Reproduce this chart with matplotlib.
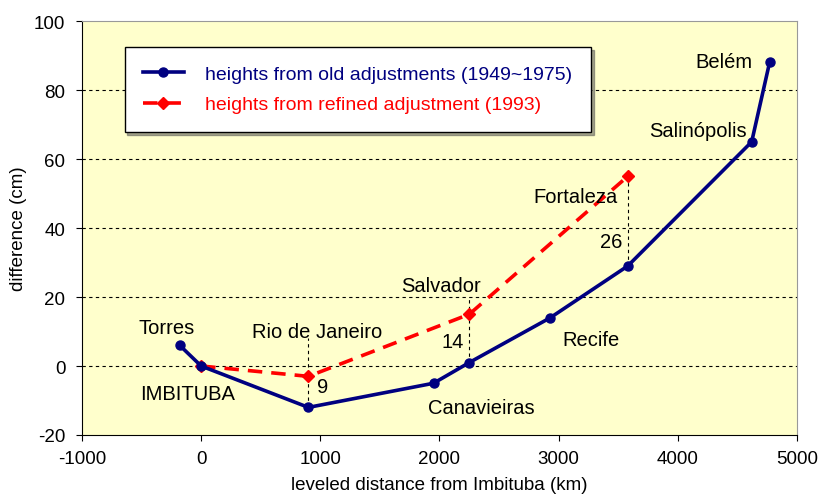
import matplotlib
matplotlib.use("Agg")
import matplotlib.pyplot as plt

plt.rcParams['font.family'] = ['Liberation Sans', 'DejaVu Sans']
plt.rcParams['axes.unicode_minus'] = False

# Data
old_x = [-180, 0, 900, 1950, 2250, 2930, 3580, 4620, 4770]
old_y = [6, 0, -12, -5, 1, 14, 29, 65, 88]
new_x = [0, 900, 2250, 3580]
new_y = [0, -3, 15, 55]
gap_x = [900, 2250, 3580]
gap_lo = [-12, 1, 29]
gap_hi = [8, 20, 55]
gap_labels = ["9", "14", "26"]
city_names = ["Torres", "IMBITUBA", "Rio de Janeiro", "Canavieiras", "Salvador",
              "Recife", "Fortaleza", "Salinópolis", "Belém"]
city_x = [-286, -118, 975, 2353, 2017, 3269, 3143, 4168, 4387]
city_y = [11.3, -8.1, 9.9, -12, 23.2, 7.8, 49, 68.4, 88.2]
gap_lab_x = [1017, 2109, 3445]
gap_lab_y = [-6, 7, 36]

fig = plt.figure(figsize=(8.18, 5.02), dpi=100)
ax = fig.add_axes([0.1002, 0.1315, 0.8741, 0.8245])
ax.set_facecolor('#FFFFCC')

ax.set_xlim(-1000, 5000)
ax.set_ylim(-20, 100)
ax.set_xticks(range(-1000, 5001, 1000))
ax.set_yticks(range(-20, 101, 20))
for yv in [0, 20, 40, 60, 80]:
    ax.axhline(yv, color='black', lw=0.8, ls=(0, (3, 3)), zorder=1)

ax.vlines(gap_x, gap_lo, gap_hi, colors='black', lw=0.8, linestyles=(0, (3, 3)), zorder=1)

l1, = ax.plot(old_x, old_y, color='#000080', lw=2.6, marker='o', ms=6.5, zorder=4,
              label='heights from old adjustments (1949~1975)')
l2, = ax.plot(new_x, new_y, color='#FF0000', lw=2.6, ls=(0, (4, 2.5)), marker='D', ms=6,
              zorder=3, label='heights from refined adjustment (1993)')

for n, x, y in zip(city_names, city_x, city_y):
    ax.text(x, y, n, fontsize=14.5, ha='center', va='center', zorder=5)
for n, x, y in zip(gap_labels, gap_lab_x, gap_lab_y):
    ax.text(x, y, n, fontsize=14.5, ha='center', va='center', zorder=5)

ax.tick_params(axis='both', direction='out', length=4, labelsize=13.5, width=0.8)
ax.tick_params(axis='y', pad=8)
ax.tick_params(axis='x', pad=7)
ax.spines['left'].set_color('black')
ax.spines['bottom'].set_color('black')
ax.spines['top'].set_color('#999999')
ax.spines['right'].set_color('#999999')

ax.set_xlabel('leveled distance from Imbituba (km)', fontsize=13.5, labelpad=6)
ax.set_ylabel('difference (cm)', fontsize=13.5, labelpad=5)

leg = ax.legend(handles=[l1, l2], loc='upper left', bbox_to_anchor=(0.0595, 0.937),
                fontsize=14, frameon=True, fancybox=False, shadow=True,
                handlelength=2.1, borderpad=0.95, labelspacing=0.65, handletextpad=1.1,
                borderaxespad=0)
leg.get_frame().set_edgecolor('black')
leg.get_frame().set_linewidth(1.0)
leg.get_texts()[0].set_color('#000080')
leg.get_texts()[1].set_color('#FF0000')

fig.savefig('out.png', dpi=100, facecolor='white')
